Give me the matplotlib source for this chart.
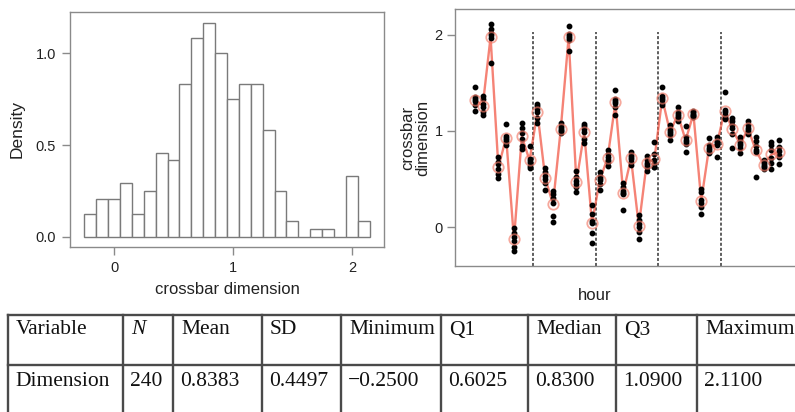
import numpy as np
import matplotlib
matplotlib.use("Agg")
import matplotlib.pyplot as plt
from matplotlib.lines import Line2D

plt.rcParams['font.family'] = ['Liberation Sans', 'DejaVu Sans']

# ---------------- data ----------------
N_TOTAL = 240
bin_start = -0.25
bin_width = 0.1
hist_counts = [3, 5, 5, 7, 3, 6, 11, 10, 20, 26, 28, 24, 18, 20, 20, 14, 6, 2, 0, 1, 1, 0, 8, 2]

hist_xticks = [0, 1, 2]
hist_yticks = [0.0, 0.5, 1.0]
hist_yticklabels = ["0.0", "0.5", "1.0"]

# six measurements per hourly subgroup (40 subgroups)
subgroups = [
    [1.46, 1.35, 1.33, 1.31, 1.27, 1.21],
    [1.36, 1.33, 1.28, 1.25, 1.20, 1.17],
    [2.11, 2.06, 2.02, 2.00, 1.97, 1.71],
    [0.73, 0.68, 0.66, 0.60, 0.55, 0.51],
    [1.07, 0.95, 0.93, 0.91, 0.88, 0.85],
    [-0.01, -0.06, -0.10, -0.15, -0.21, -0.25],
    [1.08, 1.03, 0.98, 0.92, 0.84, 0.81],
    [0.84, 0.71, 0.69, 0.67, 0.64, 0.61],
    [1.28, 1.26, 1.23, 1.20, 1.14, 1.08],
    [0.61, 0.57, 0.53, 0.50, 0.46, 0.39],
    [0.38, 0.34, 0.30, 0.25, 0.11, 0.05],
    [1.08, 1.05, 1.03, 1.01, 1.00, 0.98],
    [2.09, 2.01, 1.99, 1.97, 1.95, 1.83],
    [0.58, 0.52, 0.48, 0.45, 0.42, 0.36],
    [1.07, 1.05, 1.02, 0.99, 0.92, 0.87],
    [0.23, 0.14, 0.06, 0.04, -0.06, -0.17],
    [0.57, 0.53, 0.51, 0.49, 0.45, 0.39],
    [0.80, 0.76, 0.73, 0.70, 0.68, 0.64],
    [1.43, 1.33, 1.31, 1.29, 1.25, 1.17],
    [0.46, 0.42, 0.38, 0.35, 0.34, 0.18],
    [0.78, 0.75, 0.73, 0.71, 0.68, 0.65],
    [0.13, 0.07, 0.03, 0.00, -0.05, -0.12],
    [0.74, 0.70, 0.67, 0.65, 0.63, 0.58],
    [0.88, 0.76, 0.70, 0.66, 0.63, 0.62],
    [1.46, 1.36, 1.34, 1.32, 1.29, 1.27],
    [1.06, 1.02, 1.00, 0.98, 0.96, 0.91],
    [1.25, 1.20, 1.18, 1.16, 1.13, 1.10],
    [1.05, 0.94, 0.91, 0.88, 0.86, 0.78],
    [1.21, 1.20, 1.18, 1.17, 1.16, 1.15],
    [0.40, 0.36, 0.28, 0.25, 0.21, 0.14],
    [0.93, 0.85, 0.82, 0.80, 0.78, 0.77],
    [0.94, 0.90, 0.88, 0.86, 0.85, 0.73],
    [1.41, 1.22, 1.20, 1.17, 1.14, 1.12],
    [1.13, 1.10, 1.06, 1.03, 0.97, 0.82],
    [0.94, 0.90, 0.87, 0.85, 0.82, 0.77],
    [1.10, 1.06, 1.03, 1.01, 0.99, 0.97],
    [0.94, 0.90, 0.84, 0.80, 0.78, 0.52],
    [0.70, 0.68, 0.66, 0.64, 0.62, 0.60],
    [0.89, 0.85, 0.80, 0.72, 0.67, 0.60],
    [0.91, 0.83, 0.79, 0.75, 0.73, 0.66],
]
day_breaks = [8.5, 16.5, 24.5, 32.5]
ts_yticks = [0, 1, 2]

table_header = ["Variable", "N", "Mean", "SD", "Minimum", "Q1", "Median", "Q3", "Maximum"]
table_row = ["Dimension", "240", "0.8383", "0.4497", "\u22120.2500", "0.6025", "0.8300", "1.0900", "2.1100"]

# ---------------- figure ----------------
W, H = 795, 412
fig = plt.figure(figsize=(W / 100, H / 100), dpi=100)

def px_axes(l, t, r, b):
    return fig.add_axes([l / W, 1 - b / H, (r - l) / W, (b - t) / H])

spine_col = '#8a8a8a'
text_col = '#222222'

# ---- histogram ----
ax1 = px_axes(70, 12, 384, 247)
counts = np.array(hist_counts, dtype=float)
edges = bin_start + bin_width * np.arange(len(counts) + 1)
density = counts / (N_TOTAL * bin_width)
ax1.bar(edges[:-1], density, width=bin_width, align='edge',
        facecolor='white', edgecolor='#7a7a7a', linewidth=1.0)
ax1.set_xlim(-0.37, 2.27)
ax1.set_ylim(-0.056, 1.226)
ax1.set_xticks(hist_xticks)
ax1.set_xticklabels([str(t) for t in hist_xticks])
ax1.set_yticks(hist_yticks)
ax1.set_yticklabels(hist_yticklabels)
for s in ax1.spines.values():
    s.set_color(spine_col)
    s.set_linewidth(1.0)
ax1.tick_params(axis='both', length=6, width=1.0, color=spine_col,
                labelsize=10.5, labelcolor=text_col, pad=4)
ax1.set_xlabel("crossbar dimension", fontsize=12, color=text_col, labelpad=5)
ax1.set_ylabel("Density", fontsize=12.5, color=text_col, labelpad=8)

# ---- time series ----
ax2 = px_axes(455, 9, 805, 266)
x = np.arange(1, len(subgroups) + 1)
means = np.array([np.mean(g) for g in subgroups])
ax2.plot(x, means, color='#f25a48', linewidth=1.7, alpha=0.75, zorder=2)
for xi, g in zip(x, subgroups):
    ax2.plot([xi] * len(g), g, linestyle='none', marker='o', markersize=3.2,
             color='black', zorder=3)
ax2.plot(x, means, linestyle='none', marker='o', markersize=7.5,
         markerfacecolor='none', markeredgecolor='#f27a68', markeredgewidth=1.3,
         alpha=0.65, zorder=4)
ax2.vlines(day_breaks, -0.406, 2.03, colors='#333333', linestyles=(0, (2.0, 1.3)),
           linewidth=1.1, zorder=1)
ax2.set_xlim(-1.56, 43.3)
ax2.set_ylim(-0.406, 2.27)
ax2.set_xticks([])
ax2.set_yticks(ts_yticks)
ax2.set_yticklabels([str(t) for t in ts_yticks])
for s in ax2.spines.values():
    s.set_color(spine_col)
    s.set_linewidth(1.0)
ax2.tick_params(axis='y', length=6, width=1.0, color=spine_col,
                labelsize=10.5, labelcolor=text_col, pad=3)
ax2.set_ylabel("crossbar\ndimension", fontsize=12, color=text_col, labelpad=3,
               linespacing=1.0)
fig.text(595 / W, 1 - 296 / H, "hour", ha='center', va='center',
         fontsize=12, color=text_col)

# ---- table ----
ax3 = fig.add_axes([0, 0, 1, 1], zorder=-1)
ax3.set_xlim(0, W)
ax3.set_ylim(H, 0)
ax3.axis('off')
col_x = [8, 123, 173, 262, 341, 441, 528, 616, 697]
row_y = [315, 365, 416]
line_col = '#4a4a4a'
for yy in row_y:
    ax3.add_line(Line2D([col_x[0], W + 5], [yy, yy], color=line_col, linewidth=1.7))
for xx in col_x:
    ax3.add_line(Line2D([xx, xx], [row_y[0], H + 5], color=line_col, linewidth=1.7))
serif = ['Liberation Serif', 'DejaVu Serif']
for i, (hdr, val) in enumerate(zip(table_header, table_row)):
    style = 'italic' if hdr == 'N' else 'normal'
    ax3.text(col_x[i] + 8, 330, hdr, family=serif, fontsize=15.5, style=style,
             ha='left', va='center', color='#111111')
    ax3.text(col_x[i] + 7, 381, val, family=serif, fontsize=15.5,
             ha='left', va='center', color='#111111')

fig.savefig("out.png", dpi=100)
